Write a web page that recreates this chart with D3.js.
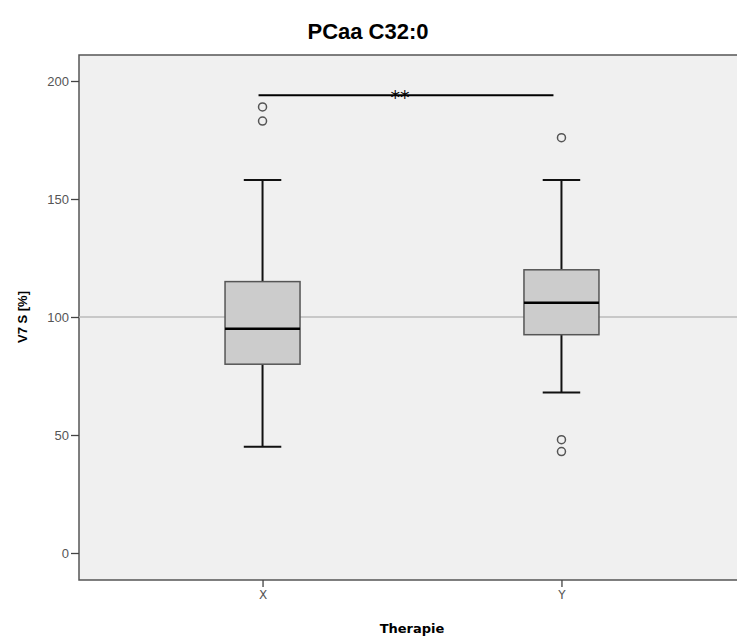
<!DOCTYPE html>
<html>
<head>
<meta charset="utf-8">
<script src="https://cdn.jsdelivr.net/npm/d3@7"></script>
<style>
body { margin: 0; background: #fff; overflow: hidden; }
</style>
</head>
<body>
<div id="chart"></div>
<script>
// data
const groups = ['X', 'Y'];
const q1 = [80, 92.5];
const median = [95, 106];
const q3 = [115, 120];
const whiskerLow = [45, 68];
const whiskerHigh = [158, 158];
const outliers = [[189, 183], [176, 48, 43]];
const yTicks = [0, 50, 100, 150, 200];
const sigLevel = 194;

const width = 737;
const height = 637;
const plotLeft = 79, plotRight = 745, plotTop = 55, plotBottom = 580;

var svg = d3.select('#chart')
  .append('svg')
  .attr('width', width)
  .attr('height', height);

const x = d3.scalePoint()
  .domain(groups)
  .range([plotLeft, plotRight])
  .padding(0.614);

const y = d3.scaleLinear()
  .domain([0, 200])
  .range([553, 81]);

const boxW = 75;

// plot background
svg.append('rect')
  .attr('x', plotLeft).attr('y', plotTop)
  .attr('width', plotRight - plotLeft).attr('height', plotBottom - plotTop)
  .attr('fill', '#f0f0f0')
  .attr('stroke', '#555')
  .attr('stroke-width', 1.5);

// reference line at 100
svg.append('line')
  .attr('x1', plotLeft).attr('x2', plotRight)
  .attr('y1', y(100)).attr('y2', y(100))
  .attr('stroke', '#bbb')
  .attr('stroke-width', 1.5);

// y axis
let yAxis = svg.append('g')
  .attr('transform', 'translate(' + plotLeft + ',0)')
  .call(d3.axisLeft(y).tickValues(yTicks).tickSize(8).tickPadding(2));
yAxis.select('.domain').remove();
yAxis.selectAll('line').attr('stroke', '#444').attr('stroke-width', 1.3);
yAxis.selectAll('text')
  .attr('font-family', 'Liberation Sans Narrow, Liberation Sans, Arial')
  .attr('font-size', '13px')
  .attr('fill', '#555');

// x axis
let xAxis = svg.append('g')
  .attr('transform', 'translate(0,' + plotBottom + ')')
  .call(d3.axisBottom(x).tickSize(7).tickPadding(3));
xAxis.select('.domain').remove();
xAxis.selectAll('line').attr('stroke', '#444').attr('stroke-width', 1.3);
xAxis.selectAll('text')
  .attr('font-family', 'DejaVu Sans')
  .attr('font-size', '12px')
  .attr('fill', '#555');

// boxes
let boxes = svg.selectAll('.box')
  .data(groups)
  .enter()
  .append('g')
  .attr('class', 'box');

// whiskers
boxes.append('line')
  .attr('x1', d => x(d)).attr('x2', d => x(d))
  .attr('y1', (d, i) => y(whiskerHigh[i]))
  .attr('y2', (d, i) => y(q3[i]))
  .attr('stroke', '#111').attr('stroke-width', 2);
boxes.append('line')
  .attr('x1', d => x(d)).attr('x2', d => x(d))
  .attr('y1', (d, i) => y(q1[i]))
  .attr('y2', (d, i) => y(whiskerLow[i]))
  .attr('stroke', '#111').attr('stroke-width', 2);
boxes.append('line')
  .attr('x1', d => x(d) - boxW / 4).attr('x2', d => x(d) + boxW / 4)
  .attr('y1', (d, i) => y(whiskerHigh[i]))
  .attr('y2', (d, i) => y(whiskerHigh[i]))
  .attr('stroke', '#111').attr('stroke-width', 2);
boxes.append('line')
  .attr('x1', d => x(d) - boxW / 4).attr('x2', d => x(d) + boxW / 4)
  .attr('y1', (d, i) => y(whiskerLow[i]))
  .attr('y2', (d, i) => y(whiskerLow[i]))
  .attr('stroke', '#111').attr('stroke-width', 2);

boxes.append('rect')
  .attr('x', d => x(d) - boxW / 2)
  .attr('y', (d, i) => y(q3[i]))
  .attr('width', boxW)
  .attr('height', (d, i) => y(q1[i]) - y(q3[i]))
  .attr('fill', '#cccccc')
  .attr('stroke', '#555')
  .attr('stroke-width', 1.5);

boxes.append('line')
  .attr('x1', d => x(d) - boxW / 2).attr('x2', d => x(d) + boxW / 2)
  .attr('y1', (d, i) => y(median[i]))
  .attr('y2', (d, i) => y(median[i]))
  .attr('stroke', '#000').attr('stroke-width', 2.5);

// outliers
groups.forEach(function(g, i) {
  svg.selectAll('.out' + i)
    .data(outliers[i])
    .enter()
    .append('circle')
    .attr('cx', x(g))
    .attr('cy', d => y(d))
    .attr('r', 4)
    .attr('fill', 'none')
    .attr('stroke', '#555')
    .attr('stroke-width', 1.5);
});

// significance bar
svg.append('line')
  .attr('x1', x('X') - 4).attr('x2', x('Y') - 8)
  .attr('y1', y(sigLevel)).attr('y2', y(sigLevel))
  .attr('stroke', '#000').attr('stroke-width', 2);
svg.append('text')
  .attr('x', (x('X') + x('Y')) / 2 - 12)
  .attr('y', y(sigLevel) + 9)
  .attr('text-anchor', 'middle')
  .attr('font-family', 'DejaVu Sans')
  .attr('font-size', '19px')
  .text('**');

// title and labels
svg.append('text')
  .attr('x', 368).attr('y', 39)
  .attr('text-anchor', 'middle')
  .attr('font-family', 'Liberation Sans Narrow, Liberation Sans, Arial')
  .attr('font-weight', 'bold')
  .attr('font-size', '22px')
  .text('PCaa C32:0');

svg.append('text')
  .attr('transform', 'translate(27,' + y(100) + ') rotate(-90)')
  .attr('text-anchor', 'middle')
  .attr('font-family', 'Liberation Sans, Arial')
  .attr('font-weight', 'bold')
  .attr('font-size', '13px')
  .text('V7 S [%]');

svg.append('text')
  .attr('x', 412).attr('y', 633)
  .attr('text-anchor', 'middle')
  .attr('font-family', 'DejaVu Sans')
  .attr('font-weight', 'bold')
  .attr('font-size', '13px')
  .text('Therapie');
</script>
</body>
</html>
